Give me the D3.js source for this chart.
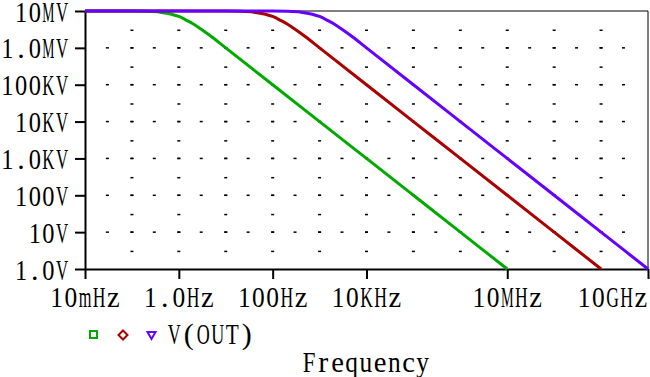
<!DOCTYPE html>
<html>
<head>
<meta charset="utf-8">
<script src="https://cdn.jsdelivr.net/npm/d3@7"></script>
<style>
  html, body { margin: 0; padding: 0; background: #fff; overflow: hidden; }
  svg { display: block; }
  text { font-family: "Liberation Serif", "DejaVu Serif", serif; font-size: 30px; fill: #000; }
</style>
</head>
<body>
<svg id="chart" width="650" height="377"></svg>
<script>
// valeurs
const greenFreq = [0.01, 0.1, 0.2, 0.4, 0.7, 1, 1.5, 2, 3, 5, 10, 100, 1e3, 1e4, 1e5, 1e6, 1e7];
const greenMag = [1e7, 9.95e6, 9.8e6, 9.3e6, 8.2e6, 7.1e6, 5.5e6, 4.5e6, 3.2e6, 2.0e6, 1.0e6, 1e5, 1e4, 1e3, 100, 10, 1];
const redFreq = [0.01, 10, 20, 40, 70, 100, 150, 200, 300, 500, 1e3, 1e4, 1e5, 1e6, 1e7, 1e8, 1e9];
const redMag = [1e7, 9.95e6, 9.8e6, 9.3e6, 8.2e6, 7.1e6, 5.5e6, 4.5e6, 3.2e6, 2.0e6, 1.0e6, 1e5, 1e4, 1e3, 100, 10, 1];
const blueFreq = [0.01, 100, 200, 400, 700, 1e3, 1.5e3, 2e3, 3e3, 5e3, 1e4, 1e5, 1e6, 1e7, 1e8, 1e9, 1e10];
const blueMag = [1e7, 9.95e6, 9.8e6, 9.3e6, 8.2e6, 7.1e6, 5.5e6, 4.5e6, 3.2e6, 2.0e6, 1.0e6, 1e5, 1e4, 1e3, 100, 10, 1];

const xTicks = [1e-2, 1, 1e2, 1e4, 1e7, 1e10];
const xLabels = ['10mHz', '1.0Hz', '100Hz', '10KHz', '10MHz', '10GHz'];
const yTicks = [1, 10, 100, 1e3, 1e4, 1e5, 1e6, 1e7];
const yLabels = ['1.0V', '10V', '100V', '1.0KV', '10KV', '100KV', '1.0MV', '10MV'];
const legendText = 'V(OUT)';
const xTitle = 'Frequency';

const svg = d3.select('#chart');
const x = d3.scaleLog().domain([1e-2, 1e10]).range([85, 648]);
const y = d3.scaleLog().domain([1, 1e7]).range([269, 11]);

// texte à chasse fixe : un tspan par caractère, glyphes trop larges comprimés
function monoLabel(str, px, py, anchor, cell) {
  const w = str.length * cell;
  const start = anchor === 'end' ? px - w : anchor === 'middle' ? px - w / 2 : px;
  const maxW = cell - 1.5;
  const t = svg.append('text').attr('y', py);
  str.split('').forEach((ch, i) => {
    const ts = t.append('tspan').attr('x', start + i * cell).text(ch);
    const cw = ts.node().getComputedTextLength();
    if (cw > maxW) {
      ts.attr('x', start + i * cell + (cell - maxW) / 2)
        .attr('textLength', maxW)
        .attr('lengthAdjust', 'spacingAndGlyphs');
    } else {
      ts.attr('x', start + i * cell + (cell - cw) / 2);
    }
  });
  return t;
}

// grille de points
const gridX = [], gridY = [];
for (let e = -2; e < 10; e++) {
  gridX.push(Math.pow(10, e));
  gridX.push(3 * Math.pow(10, e));
}
for (let e = 0; e < 7; e++) {
  gridY.push(Math.pow(10, e));
  gridY.push(3 * Math.pow(10, e));
}
const dots = [];
for (let e = -1; e < 10; e++) {
  gridY.forEach(v => { if (v > 1) dots.push([Math.pow(10, e), v]); });
}
for (let e = 1; e < 7; e++) {
  gridX.forEach(f => { if (f > 1e-2) dots.push([f, Math.pow(10, e)]); });
}
svg.append('g').selectAll('rect')
  .data(dots)
  .join('rect')
    .attr('x', d => x(d[0]) - 1.5)
    .attr('y', d => y(d[1]) - 0.75)
    .attr('width', 3)
    .attr('height', 1.5)
    .attr('fill', '#000');

// cadre fin haut / droite
svg.append('line')
  .attr('x1', x(1e-2)).attr('x2', x(1e10)).attr('y1', y(1e7)).attr('y2', y(1e7))
  .attr('stroke', '#000').attr('stroke-width', 1);
svg.append('line')
  .attr('x1', x(1e10)).attr('x2', x(1e10)).attr('y1', y(1e7)).attr('y2', y(1))
  .attr('stroke', '#000').attr('stroke-width', 1);

// axes
const yAxis = svg.append('g')
  .attr('transform', `translate(${x(1e-2)},0)`)
  .call(d3.axisLeft(y).tickValues(yTicks).tickSize(10).tickSizeOuter(0).tickFormat(''));
const xAxis = svg.append('g')
  .attr('transform', `translate(0,${y(1)})`)
  .call(d3.axisBottom(x).tickValues(xTicks).tickSize(10).tickSizeOuter(0).tickFormat(''));
[yAxis, xAxis].forEach(a => {
  a.select('.domain').attr('stroke', '#000').attr('stroke-width', 2);
  a.selectAll('.tick line').attr('stroke', '#000').attr('stroke-width', 2);
});

// courbes
const line = d3.line()
  .x(d => x(d[0]))
  .y(d => y(d[1]))
  .curve(d3.curveMonotoneX);
const series = [
  { f: greenFreq, v: greenMag, color: '#00aa00' },
  { f: redFreq, v: redMag, color: '#aa0000' },
  { f: blueFreq, v: blueMag, color: '#6600ff' }
];
series.forEach(s => {
  svg.append('path')
    .datum(s.f.map((f, i) => [f, s.v[i]]))
    .attr('fill', 'none')
    .attr('stroke', s.color)
    .attr('stroke-width', 3)
    .attr('stroke-linejoin', 'round')
    .attr('d', line);
});

// étiquettes
yTicks.forEach((v, i) => monoLabel(yLabels[i], 69, y(v) + 10.5, 'end', 13.7));
xTicks.forEach((f, i) => {
  const anchor = i === xTicks.length - 1 ? 'end' : 'middle';
  monoLabel(xLabels[i], anchor === 'end' ? 648 : x(f), 307, anchor, 14.2);
});

// légende
svg.append('rect')
  .attr('x', 90).attr('y', 331).attr('width', 7).attr('height', 7)
  .attr('fill', 'none').attr('stroke', series[0].color).attr('stroke-width', 2);
svg.append('path')
  .attr('d', 'M123,330.5 L127.5,335 L123,339.5 L118.5,335 Z')
  .attr('fill', 'none').attr('stroke', series[1].color).attr('stroke-width', 2);
svg.append('path')
  .attr('d', 'M147.5,332 L155.5,332 L151.5,339 Z')
  .attr('fill', 'none').attr('stroke', series[2].color).attr('stroke-width', 2);
monoLabel(legendText, 167, 344, 'start', 14.5);
monoLabel(xTitle, 302, 372, 'start', 14.2);
</script>
</body>
</html>
